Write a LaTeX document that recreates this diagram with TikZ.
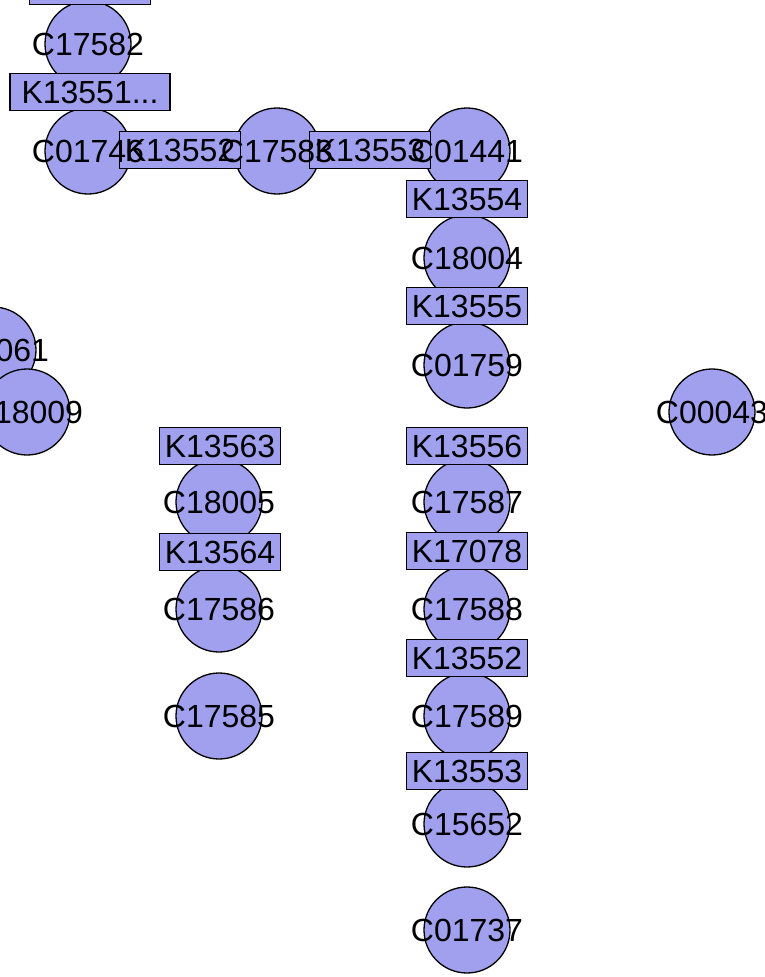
\documentclass[tikz,border=0pt]{standalone}
\usepackage{fontspec}
\setmainfont{Liberation Sans}
\definecolor{nodefill}{RGB}{160,160,238}
\begin{document}
\begin{tikzpicture}[x=1pt,y=-1pt,
  cnode/.style={circle,draw=black,line width=1.3pt,fill=nodefill,minimum size=86pt,inner sep=0pt},
  knode/.style={rectangle,draw=black,line width=1.3pt,fill=nodefill,minimum width=121pt,minimum height=37pt,inner sep=0pt},
  txt/.style={inner sep=0pt,font=\fontsize{32}{36}\selectfont}]
\useasboundingbox (0,0) rectangle (764,977);
\clip (0,0) rectangle (764,977);
% compound circles
\node[cnode] (c17582) at (88,44) {};
\node[cnode] (c01746) at (88,151) {};
\node[cnode] (c17583) at (277,151) {};
\node[cnode] (c01441) at (467,151) {};
\node[cnode] (c18004) at (467,258) {};
\node[cnode] (c01759) at (467,365) {};
\node[cnode] (c17587) at (467,502) {};
\node[cnode] (c17588) at (467,609) {};
\node[cnode] (c17589) at (467,716) {};
\node[cnode] (c15652) at (467,824) {};
\node[cnode] (c01737) at (467,930) {};
\node[cnode] (c18005) at (219,502) {};
\node[cnode] (c17586) at (219,609) {};
\node[cnode] (c17585) at (219,716) {};
\node[cnode] (c00043) at (712,412) {};
\node[cnode] (c00061) at (-7,350) {};
\node[cnode] (c18009) at (27,412) {};
% enzyme boxes
\node[knode] (ktop) at (90,-14) {};
\node[knode,minimum width=160pt] (k13551) at (90,92) {};
\node[knode] (k13552a) at (180,150) {};
\node[knode] (k13553a) at (370,150) {};
\node[knode] (k13554) at (467,199) {};
\node[knode] (k13555) at (467,306) {};
\node[knode] (k13556) at (467,446) {};
\node[knode] (k17078) at (467,551) {};
\node[knode] (k13552b) at (467,658) {};
\node[knode] (k13553b) at (467,771) {};
\node[knode] (k13563) at (220,446) {};
\node[knode] (k13564) at (220,552) {};
% texts
\foreach \n/\t in {c17582/C17582,c01746/C01746,c17583/C17583,c01441/C01441,c18004/C18004,c01759/C01759,c17587/C17587,c17588/C17588,c17589/C17589,c15652/C15652,c01737/C01737,c18005/C18005,c17586/C17586,c17585/C17585,c00043/C00043,c00061/C00061,c18009/C18009,k13552a/K13552,k13553a/K13553,k13554/K13554,k13555/K13555,k13556/K13556,k17078/K17078,k13552b/K13552,k13553b/K13553,k13563/K13563,k13564/K13564}
  \node[txt] at (\n) {\t};
\node[txt] at (k13551) {K13551...};
\end{tikzpicture}
\end{document}
